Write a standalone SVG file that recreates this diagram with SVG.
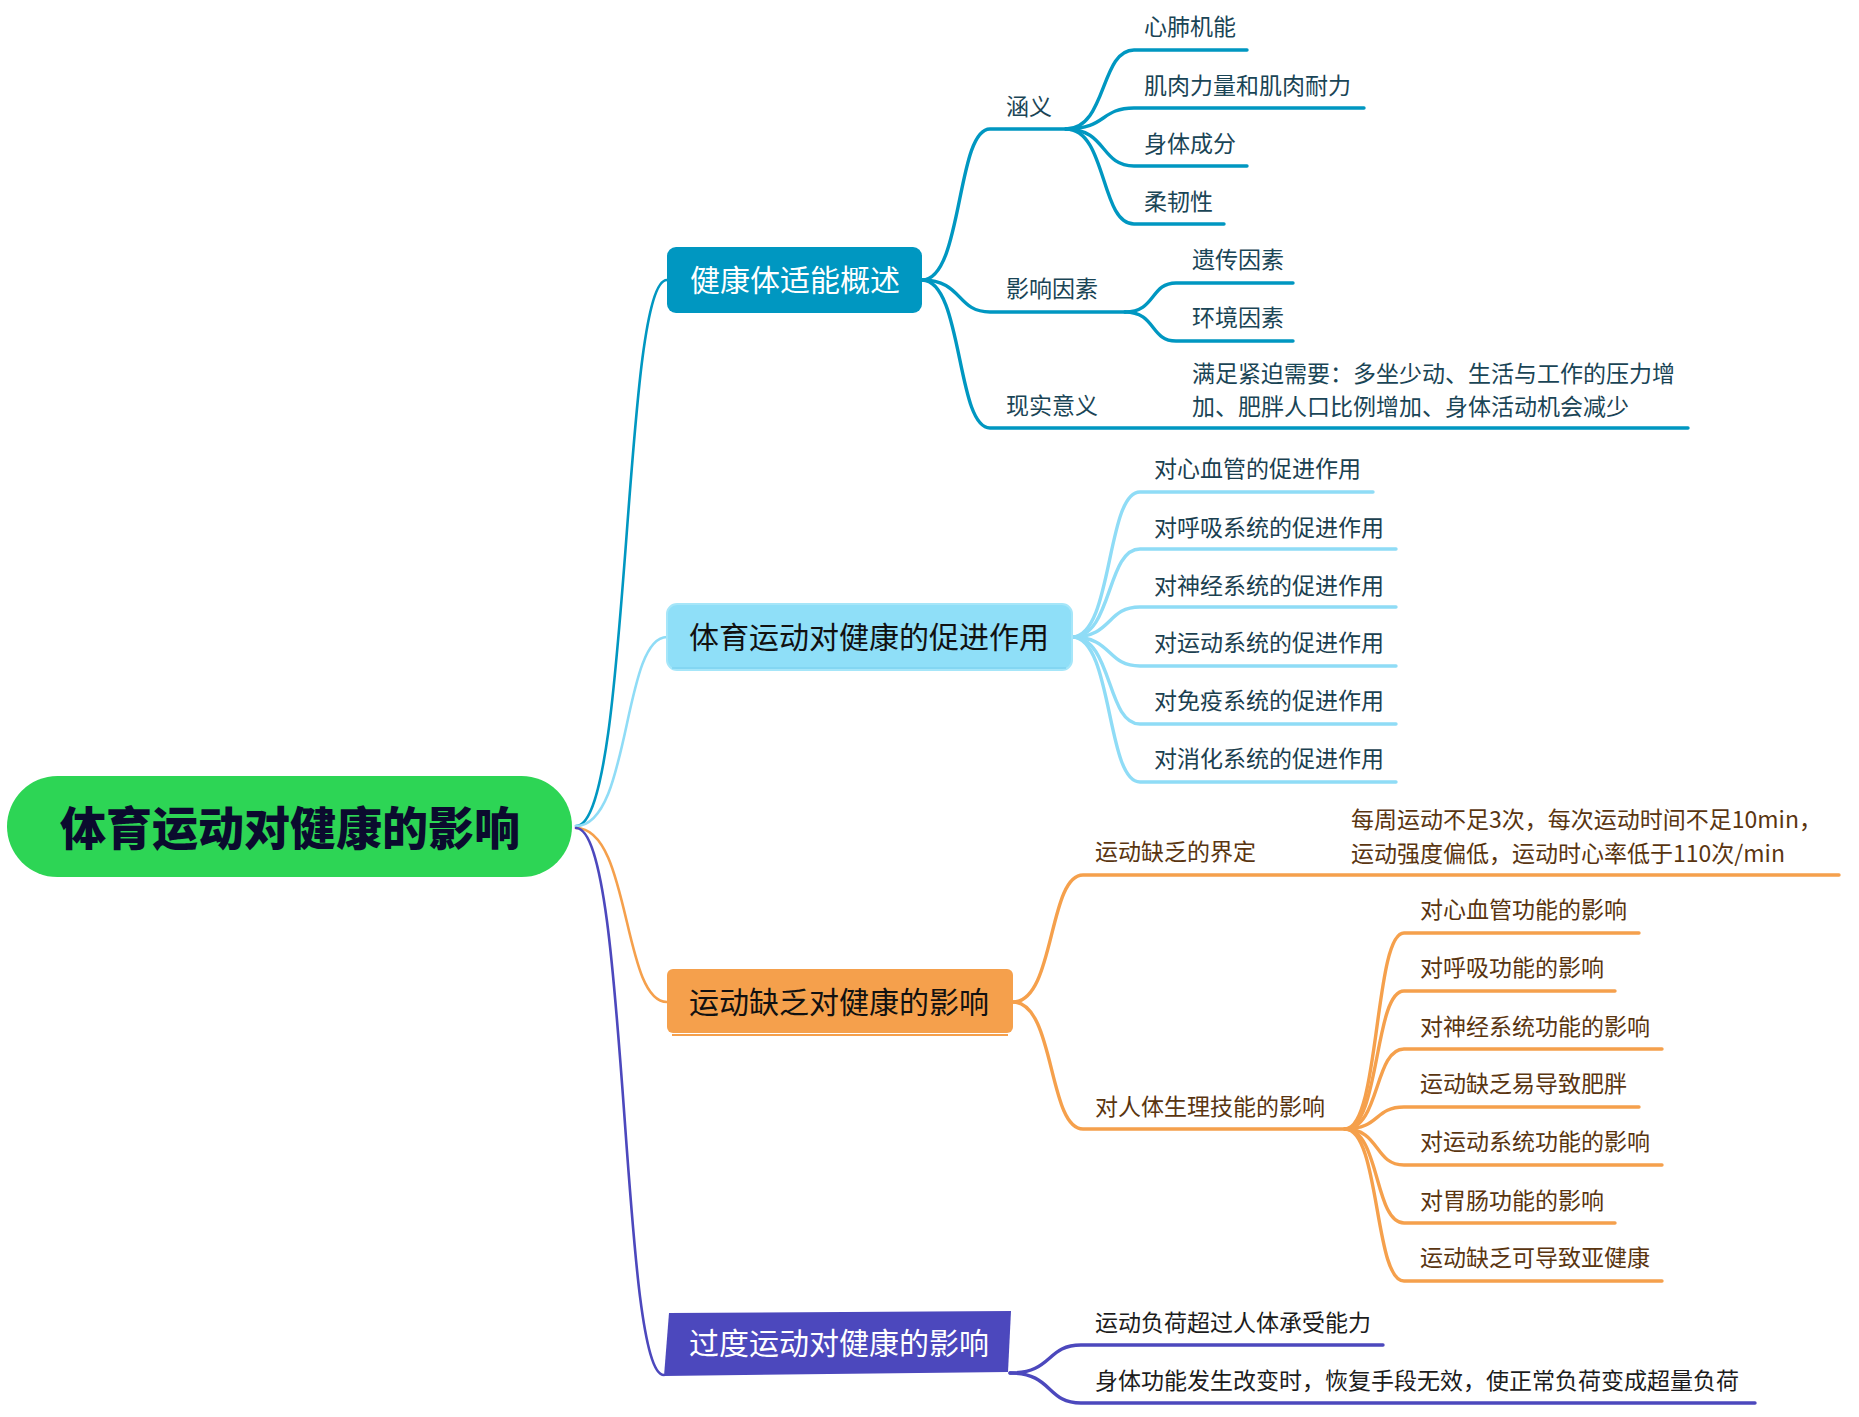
<svg xmlns="http://www.w3.org/2000/svg" width="1859" height="1417" viewBox="0 0 1859 1417">
<style>
text{font-family:"Noto Sans CJK SC","Noto Sans",sans-serif;dominant-baseline:central}
.c{fill:none;stroke-linecap:round;stroke-linejoin:round}
.m{stroke-width:2.6}
.s{stroke-width:3.4}
.cb{stroke:#0097c1}
.cl{stroke:#8fdcf6}
.co{stroke:#f5a04c}
.cp{stroke:#4c48bd}
.t{font-size:23px}
.tb{fill:#1a4556}
.tl{fill:#1b4050}
.to{fill:#5a3510}
.tp{fill:#1c1c1c}
.n{font-size:30px;text-anchor:middle}
</style>
<rect width="1859" height="1417" fill="#ffffff"/>
<g id="connectors">
<path class="c m cb" d="M576,826 C631,826 622,280 667,280"/>
<path class="c m cl" d="M576,826 C631,826 622,637 667,637"/>
<path class="c m co" d="M576,828 C631,828 622,1002 667,1002"/>
<path class="c m cp" d="M576,828 C629,828 620,1375 664,1375"/>
<path class="c s cb" d="M922,280 C963,280 956,129 990,129 H1066"/>
<path class="c s cb" d="M922,280 C963,280 956,312 990,312 H1125"/>
<path class="c s cb" d="M922,280 C963,280 956,428 990,428 H1688"/>
<path class="c s cb" d="M1066,129 C1107,129 1100,50 1134,50 H1247"/>
<path class="c s cb" d="M1066,129 C1107,129 1100,108 1134,108 H1364"/>
<path class="c s cb" d="M1066,129 C1107,129 1100,166 1134,166 H1247"/>
<path class="c s cb" d="M1066,129 C1107,129 1100,224 1134,224 H1224"/>
<path class="c s cb" d="M1125,312 C1156,312 1150,283 1176,283 H1293"/>
<path class="c s cb" d="M1125,312 C1156,312 1150,341 1176,341 H1293"/>
<path class="c s cl" d="M1072,637 C1113,637 1106,492 1140,492 H1373"/>
<path class="c s cl" d="M1072,637 C1113,637 1106,549 1140,549 H1396"/>
<path class="c s cl" d="M1072,637 C1113,637 1106,607 1140,607 H1396"/>
<path class="c s cl" d="M1072,637 C1113,637 1106,666 1140,666 H1396"/>
<path class="c s cl" d="M1072,637 C1113,637 1106,724 1140,724 H1396"/>
<path class="c s cl" d="M1072,637 C1113,637 1106,782 1140,782 H1396"/>
<path class="c s co" d="M1013,1002 C1055,1002 1048,875 1083,875 H1839"/>
<path class="c s co" d="M1013,1002 C1055,1002 1048,1129 1083,1129 H1345"/>
<path class="c s co" d="M1345,1129 C1380,1129 1374,933 1404,933 H1639"/>
<path class="c s co" d="M1345,1129 C1380,1129 1374,991 1404,991 H1615"/>
<path class="c s co" d="M1345,1129 C1380,1129 1374,1049 1404,1049 H1662"/>
<path class="c s co" d="M1345,1129 C1380,1129 1374,1107 1404,1107 H1639"/>
<path class="c s co" d="M1345,1129 C1380,1129 1374,1165 1404,1165 H1662"/>
<path class="c s co" d="M1345,1129 C1380,1129 1374,1223 1404,1223 H1615"/>
<path class="c s co" d="M1345,1129 C1380,1129 1374,1281 1404,1281 H1662"/>
<path class="c s cp" d="M1010,1373 C1053,1373 1046,1345 1081,1345 H1383"/>
<path class="c s cp" d="M1010,1373 C1053,1373 1046,1403 1081,1403 H1755"/>
</g>
<g id="root">
<rect x="7" y="776" width="565" height="101" rx="50.5" fill="#2dd555"/>
<text x="290" y="825" font-size="46" font-weight="900" text-anchor="middle" fill="#0b0b2e">体育运动对健康的影响</text>
</g>
<g id="n1">
<rect x="667" y="247" width="255" height="66" rx="9" fill="#0097c1"/>
<text class="n" x="795" y="278" fill="#ffffff">健康体适能概述</text>
</g>
<g id="n1a"><text class="t tb" x="1006" y="105">涵义</text></g>
<g id="n1a1"><text class="t tb" x="1144" y="25">心肺机能</text></g>
<g id="n1a2"><text class="t tb" x="1144" y="84">肌肉力量和肌肉耐力</text></g>
<g id="n1a3"><text class="t tb" x="1144" y="142">身体成分</text></g>
<g id="n1a4"><text class="t tb" x="1144" y="200">柔韧性</text></g>
<g id="n1b"><text class="t tb" x="1006" y="287">影响因素</text></g>
<g id="n1b1"><text class="t tb" x="1192" y="258">遗传因素</text></g>
<g id="n1b2"><text class="t tb" x="1192" y="316">环境因素</text></g>
<g id="n1c"><text class="t tb" x="1006" y="404">现实意义</text></g>
<g id="n1c1">
<text class="t tb" x="1192" y="372">满足紧迫需要：多坐少动、生活与工作的压力增</text>
<text class="t tb" x="1192" y="405">加、肥胖人口比例增加、身体活动机会减少</text>
</g>
<g id="n2">
<rect x="667" y="604" width="405" height="66" rx="10" fill="#8fdff8" stroke="#a6e6f9" stroke-width="2"/>
<path d="M672,668 H1066" stroke="#7fd3f0" stroke-width="1.5" fill="none"/>
<text class="n" x="869" y="635" fill="#111111">体育运动对健康的促进作用</text>
</g>
<g id="n2a"><text class="t tl" x="1154" y="467">对心血管的促进作用</text></g>
<g id="n2b"><text class="t tl" x="1154" y="526">对呼吸系统的促进作用</text></g>
<g id="n2c"><text class="t tl" x="1154" y="584">对神经系统的促进作用</text></g>
<g id="n2d"><text class="t tl" x="1154" y="641">对运动系统的促进作用</text></g>
<g id="n2e"><text class="t tl" x="1154" y="699">对免疫系统的促进作用</text></g>
<g id="n2f"><text class="t tl" x="1154" y="757">对消化系统的促进作用</text></g>
<g id="n3">
<rect x="667" y="969" width="346" height="64" rx="6" fill="#f5a04c"/>
<path d="M672,1035 H1008" stroke="#f5a04c" stroke-width="2" fill="none"/>
<text class="n" x="839" y="1000" fill="#111111">运动缺乏对健康的影响</text>
</g>
<g id="n3a"><text class="t to" x="1095" y="850">运动缺乏的界定</text></g>
<g id="n3a1">
<text class="t to" x="1351" y="818">每周运动不足3次，每次运动时间不足10min，</text>
<text class="t to" x="1351" y="852">运动强度偏低，运动时心率低于110次/min</text>
</g>
<g id="n3b"><text class="t to" x="1095" y="1105">对人体生理技能的影响</text></g>
<g id="n3b1"><text class="t to" x="1420" y="908">对心血管功能的影响</text></g>
<g id="n3b2"><text class="t to" x="1420" y="966">对呼吸功能的影响</text></g>
<g id="n3b3"><text class="t to" x="1420" y="1025">对神经系统功能的影响</text></g>
<g id="n3b4"><text class="t to" x="1420" y="1082">运动缺乏易导致肥胖</text></g>
<g id="n3b5"><text class="t to" x="1420" y="1140">对运动系统功能的影响</text></g>
<g id="n3b6"><text class="t to" x="1420" y="1199">对胃肠功能的影响</text></g>
<g id="n3b7"><text class="t to" x="1420" y="1256">运动缺乏可导致亚健康</text></g>
<g id="n4">
<polygon points="669,1313 1011,1311 1008,1372 664,1376" fill="#4c48bd"/>
<text class="n" x="839" y="1341" fill="#ffffff">过度运动对健康的影响</text>
</g>
<g id="n4a"><text class="t tp" x="1095" y="1321">运动负荷超过人体承受能力</text></g>
<g id="n4b"><text class="t tp" x="1095" y="1379">身体功能发生改变时，恢复手段无效，使正常负荷变成超量负荷</text></g>
</svg>
